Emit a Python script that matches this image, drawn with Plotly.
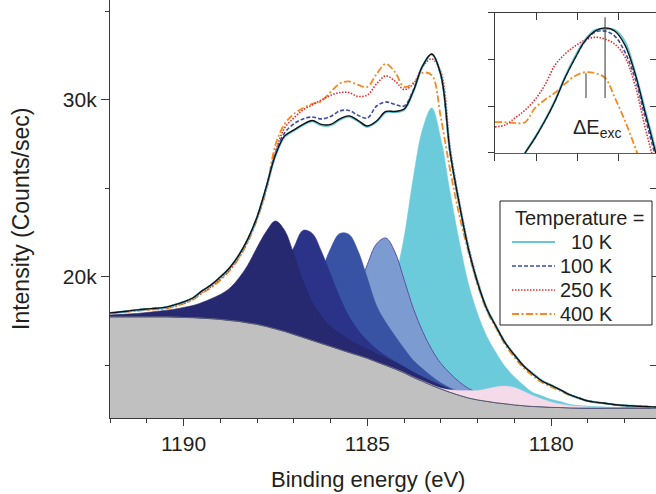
import plotly.graph_objects as go

# ---------------- main spectrum data (binding energy grid, eV) ----------------
X = [1192.00, 1191.75, 1191.50, 1191.25, 1191.00, 1190.75, 1190.50, 1190.25, 1190.00, 1189.75,
     1189.50, 1189.25, 1189.00, 1188.75, 1188.50, 1188.25, 1188.00, 1187.75, 1187.50, 1187.25,
     1187.00, 1186.75, 1186.50, 1186.25, 1186.00, 1185.75, 1185.50, 1185.25, 1185.00, 1184.75,
     1184.50, 1184.25, 1184.00, 1183.75, 1183.50, 1183.25, 1183.00, 1182.75, 1182.50, 1182.25,
     1182.00, 1181.75, 1181.50, 1181.25, 1181.00, 1180.75, 1180.50, 1180.25, 1180.00, 1179.75,
     1179.50, 1179.25, 1179.00, 1178.75, 1178.50, 1178.25, 1178.00, 1177.75, 1177.50, 1177.25,
     1177.00]

# background (counts/sec)
BG = [17740, 17740, 17740, 17740, 17740, 17740, 17740, 17730, 17710, 17700,
      17670, 17640, 17600, 17540, 17490, 17400, 17320, 17200, 17060, 16920,
      16750, 16580, 16410, 16240, 16070, 15900, 15730, 15570, 15400, 15200,
      15000, 14800, 14580, 14320, 14100, 13870, 13670, 13480, 13310, 13160,
      13050, 12970, 12890, 12830, 12770, 12720, 12680, 12660, 12630, 12620,
      12600, 12590, 12590, 12590, 12580, 12580, 12580, 12580, 12570, 12570,
      12570]

# fitted components (height above background)
P1 = [110, 140, 170, 200, 250, 310, 370, 450, 570, 680,
      880, 1130, 1410, 1810, 2430, 3280, 4350, 5370, 6100, 5710,
      4520, 3160, 2150, 1530, 1130, 900, 730, 590, 510, 450,
      400, 340, 310, 280, 250, 230, 200, 170, 140, 110,
      85, 70, 55, 45, 40, 35, 30, 25, 25, 20,
      20, 20, 10, 10, 10, 10, 5, 5, 5, 5, 5]
P2 = [85, 90, 100, 110, 120, 140, 170, 200, 230, 250,
      310, 370, 450, 570, 740, 960, 1360, 1870, 2770, 3840,
      4920, 6050, 6050, 5200, 4070, 2940, 2030, 1410, 990, 710,
      540, 420, 350, 290, 240, 200, 170, 140, 110, 95,
      80, 70, 55, 45, 40, 35, 30, 25, 25, 20,
      20, 20, 10, 10, 10, 10, 5, 5, 5, 5, 5]
P3 = [85, 85, 90, 95, 100, 110, 115, 120, 125, 130,
      135, 140, 145, 160, 190, 230, 280, 370, 510, 740,
      1130, 1870, 2830, 4070, 5540, 6550, 6670, 5880, 4520, 3160,
      2430, 1870, 1360, 960, 710, 510, 340, 250, 200, 150,
      110, 85, 70, 55, 45, 35, 30, 25, 25, 20,
      20, 20, 10, 10, 10, 10, 5, 5, 5, 5, 5]
P4 = [85, 85, 85, 90, 90, 95, 95, 100, 105, 115,
      120, 125, 130, 135, 140, 145, 155, 165, 200, 245,
      310, 400, 540, 740, 1070, 1580, 2430, 3730, 5310, 6670,
      7200, 6610, 5260, 3900, 2830, 2030, 1440, 1070, 760, 540,
      400, 280, 210, 160, 120, 90, 70, 55, 45, 40,
      35, 30, 25, 25, 15, 15, 10, 10, 10, 5, 5]
P5 = [85, 90, 95, 100, 105, 115, 120, 125, 130, 135,
      140, 145, 155, 160, 165, 170, 175, 180, 185, 200,
      210, 220, 240, 260, 310, 400, 510, 680, 960, 1870,
      3110, 5030, 7680, 11300, 14240, 15680, 14130, 11300, 8700, 6440,
      4860, 3670, 2830, 2090, 1580, 1160, 790, 620, 450, 340,
      200, 140, 115, 85, 70, 55, 45, 35, 30, 25, 15]
P6 = [0, 0, 0, 0, 0, 0, 0, 0, 0, 0,
      0, 0, 0, 0, 0, 0, 0, 0, 0, 0,
      0, 0, 0, 0, 0, 0, 0, 0, 0, 0,
      10, 15, 25, 30, 35, 45, 55, 140, 280, 420,
      540, 710, 900, 1010, 990, 820, 620, 450, 310, 200,
      140, 100, 80, 60, 50, 40, 35, 30, 25, 15, 15]

# measured spectra / fit envelope
ENVELOPE = [17970, 18020, 18080, 18140, 18190, 18230, 18280, 18420, 18590, 18810,
            19210, 19550, 20000, 20510, 21220, 22150, 23390, 25090, 26890, 27970,
            28310, 28620, 28840, 28620, 28620, 28930, 29100, 28840, 28530, 28810,
            29350, 29350, 29490, 30510, 31920, 32600, 31410, 27060, 24130, 21580,
            19660, 18190, 17200, 16270, 15590, 14970, 14520, 14120, 13870, 13620,
            13350, 13160, 12990, 12910, 12850, 12780, 12740, 12710, 12680, 12660,
            12640]
K10 = [17960, 18010, 18070, 18130, 18180, 18220, 18270, 18410, 18580, 18800,
       19200, 19540, 19990, 20500, 21200, 22120, 23350, 25040, 26850, 27930,
       28270, 28580, 28800, 28570, 28570, 28890, 29060, 28800, 28490, 28770,
       29310, 29320, 29460, 30480, 31900, 32580, 31420, 27080, 24150, 21600,
       19680, 18200, 17210, 16280, 15600, 14980, 14530, 14130, 13880, 13620,
       13350, 13160, 12990, 12910, 12850, 12780, 12740, 12710, 12680, 12650,
       12640]
K100 = [17970, 18020, 18080, 18140, 18190, 18230, 18280, 18420, 18590, 18810,
        19210, 19550, 20000, 20510, 21220, 22150, 23390, 25090, 27010, 28140,
        28650, 28930, 29040, 28930, 29070, 29380, 29410, 29130, 28980, 29660,
        29890, 29750, 29660, 30570, 31900, 32580, 31350, 26950, 24050, 21520,
        19620, 18170, 17190, 16260, 15580, 14960, 14510, 14120, 13870, 13620,
        13350, 13160, 12990, 12910, 12850, 12780, 12740, 12710, 12680, 12660,
        12640]
K250 = [17950, 18000, 18050, 18100, 18150, 18190, 18230, 18350, 18520, 18740,
        19120, 19450, 19880, 20400, 21100, 22030, 23300, 24920, 27060, 28420,
        28980, 29440, 29720, 30000, 30260, 30420, 30420, 30200, 30280, 30910,
        31360, 31070, 30590, 30910, 31870, 32320, 31580, 27350, 24290, 21750,
        19770, 18250, 17240, 16300, 15610, 14990, 14540, 14140, 13880, 13630,
        13360, 13170, 13000, 12910, 12850, 12780, 12740, 12710, 12680, 12660,
        12640]
K400 = [17940, 17990, 18040, 18090, 18130, 18170, 18210, 18320, 18490, 18710,
        19080, 19400, 19830, 20350, 21050, 21980, 23250, 24920, 27460, 28650,
        29210, 29550, 29780, 29940, 30450, 30930, 31050, 30850, 30740, 31470,
        32040, 31580, 30740, 30960, 31530, 31410, 28980, 26050, 23500, 21410,
        19550, 18080, 17120, 16160, 15450, 14860, 14410, 14040, 13790, 13560,
        13310, 13140, 12980, 12900, 12840, 12770, 12730, 12700, 12670, 12650,
        12630]

X_TICKS = [1190, 1185, 1180]
Y_TICKS = [20000, 30000]
Y_TICK_TEXT = ["20k", "30k"]

# ---------------- inset data ----------------
INSET_X = [1184.000, 1183.939, 1183.878, 1183.817, 1183.757, 1183.696, 1183.635, 1183.574, 1183.513,
           1183.452, 1183.391, 1183.330, 1183.270, 1183.209, 1183.148, 1183.087, 1183.026, 1182.965]
IN_ENV = [-1.0, -0.68, -0.36, 0.0, 0.32, 0.69, 1.11, 1.61, 2.03, 2.40, 2.61, 2.68, 2.61, 2.31, 1.71, 0.88, 0.06, -0.8]
IN_10K = [-1.0, -0.68, -0.36, 0.0, 0.33, 0.70, 1.12, 1.62, 2.06, 2.42, 2.63, 2.66, 2.63, 2.38, 1.73, 0.92, 0.11, -0.75]
IN_100K = [-1.0, -0.68, -0.36, 0.0, 0.32, 0.69, 1.11, 1.61, 2.03, 2.39, 2.59, 2.61, 2.50, 2.16, 1.61, 0.77, -0.04, -0.85]
IN_250K = [0.56, 0.60, 0.75, 0.92, 1.14, 1.46, 1.88, 2.12, 2.29, 2.42, 2.48, 2.44, 2.33, 2.06, 1.46, 0.56, -0.26, -1.0]
IN_400K = [0.66, 0.66, 0.64, 0.66, 0.96, 1.14, 1.29, 1.48, 1.65, 1.73, 1.71, 1.61, 1.18, 0.69, 0.13, -0.47, -1.0, -1.5]
INSET_X_TICKS = [1184.0, 1183.75, 1183.5, 1183.25]
INSET_Y_TICKS = [0, 1, 2, 3]
MARK_X = [1183.330, 1183.446]
MARK_TOP = [2.91, 1.71]
MARK_BOT = [1.18, 1.18]

LEGEND_TITLE = "Temperature ="
LEGEND_LABELS = ["10 K", "100 K", "250 K", "400 K"]

FONT = "Liberation Sans, Arial, sans-serif"
TXT = "#231f20"
AX = "#3a3a3a"

# plot area in pixels (for placing legend/titles in paper coordinates)
PL, PW, PH = 110, 546, 418


def px_x(p):
    return (p - PL) / PW


def px_y(p):
    return (PH - p) / PH


fig = go.Figure()

# background
fig.add_trace(go.Scatter(x=X, y=BG, mode="lines", fill="tozeroy", fillcolor="#c0c0c0",
                         line=dict(color="#6e6e6e", width=1, shape="spline"), showlegend=False,
                         hoverinfo="skip"))

components = [
    (P5, "#6bcbdb", "#6bcbdb", 0.5),
    (P4, "#7b9bd1", "#5d519f", 1.0),
    (P3, "#3853a4", "#34509f", 0.6),
    (P2, "#2b3389", "#283085", 0.6),
    (P1, "#26296f", "#23266a", 0.6),
    (P6, "#f5dbe9", "#f5dbe9", 0.3),
]
for comp, fc, lc, lw in components:
    fig.add_trace(go.Scatter(x=X, y=BG, mode="lines", line=dict(width=0, shape="spline"),
                             showlegend=False, hoverinfo="skip"))
    fig.add_trace(go.Scatter(x=X, y=[b + c for b, c in zip(BG, comp)], mode="lines",
                             fill="tonexty", fillcolor=fc,
                             line=dict(color=lc, width=lw, shape="spline"),
                             showlegend=False, hoverinfo="skip"))

fig.add_trace(go.Scatter(x=X, y=BG, mode="lines", line=dict(color="#585c6e", width=1, shape="spline"),
                         showlegend=False, hoverinfo="skip"))

STYLE = {
    "10 K": dict(color="#66c7d8", width=2.2, dash="solid"),
    "100 K": dict(color="#3d4ea1", width=1.6, dash="4px,2px"),
    "250 K": dict(color="#ee2a2f", width=1.6, dash="1.5px,1.5px"),
    "400 K": dict(color="#f6891f", width=1.8, dash="7px,2.5px,2px,2.5px"),
}
series = [("400 K", K400, IN_400K), ("250 K", K250, IN_250K), ("100 K", K100, IN_100K), ("10 K", K10, IN_10K)]
for name, ys, yin in series:
    fig.add_trace(go.Scatter(x=X, y=ys, mode="lines", name=name, showlegend=False,
                             line=dict(shape="spline", **STYLE[name])))
fig.add_trace(go.Scatter(x=X, y=ENVELOPE, mode="lines", name="fit", showlegend=False,
                         line=dict(color="#111111", width=1.4, shape="spline")))

# inset
for name, ys, yin in series:
    fig.add_trace(go.Scatter(x=INSET_X, y=yin, mode="lines", name=name, showlegend=False,
                             xaxis="x2", yaxis="y2", line=dict(shape="spline", **STYLE[name])))
fig.add_trace(go.Scatter(x=INSET_X, y=IN_ENV, mode="lines", showlegend=False, xaxis="x2", yaxis="y2",
                         line=dict(color="#111111", width=1.3, shape="spline")))
for mx, mt, mb in zip(MARK_X, MARK_TOP, MARK_BOT):
    fig.add_trace(go.Scatter(x=[mx, mx], y=[mb, mt], mode="lines", showlegend=False,
                             xaxis="x2", yaxis="y2", line=dict(color="#444444", width=1.1)))

# helper empty traces for mirrored-tick axes
fig.add_trace(go.Scatter(x=[], y=[], xaxis="x3", yaxis="y3", showlegend=False))
fig.add_trace(go.Scatter(x=[], y=[], xaxis="x", yaxis="y4", showlegend=False))

annotations = [
    dict(x=1183.379, y=0.53, xref="x2", yref="y2", text="\u0394E<sub>exc</sub>",
         showarrow=False, font=dict(size=20, color=TXT, family=FONT)),
    dict(x=px_x(368), y=px_y(493), xref="paper", yref="paper", text="Binding energy (eV)",
         showarrow=False, xanchor="center", yanchor="bottom", borderpad=0,
         font=dict(size=22, color=TXT, family=FONT)),
    dict(x=px_x(21), y=px_y(219), xref="paper", yref="paper", text="Intensity (Counts/sec)",
         textangle=-90, showarrow=False, xanchor="center", yanchor="middle",
         font=dict(size=23, color=TXT, family=FONT)),
    dict(x=px_x(513), y=px_y(218), xref="paper", yref="paper", text=LEGEND_TITLE,
         showarrow=False, xanchor="left", yanchor="middle", font=dict(size=20, color=TXT, family=FONT)),
]
shapes = [dict(type="rect", xref="paper", yref="paper", x0=px_x(500), x1=px_x(652), y0=px_y(325), y1=px_y(201),
               fillcolor="white", line=dict(color=TXT, width=1), layer="above")]
row_y = [242, 266, 290, 314]
for lab, ry in zip(LEGEND_LABELS, row_y):
    st = STYLE[lab]
    shapes.append(dict(type="line", xref="paper", yref="paper", x0=px_x(512), x1=px_x(555),
                       y0=px_y(ry), y1=px_y(ry), layer="above",
                       line=dict(color=st["color"], width=st["width"] if lab != "10 K" else 2, dash=st["dash"])))
    annotations.append(dict(x=px_x(615), y=px_y(ry), xref="paper", yref="paper", text=lab, showarrow=False,
                            xanchor="right", yanchor="middle", font=dict(size=20, color=TXT, family=FONT)))

fig.update_layout(
    width=656, height=494,
    margin=dict(l=110, r=0, t=0, b=76),
    paper_bgcolor="white", plot_bgcolor="white",
    font=dict(family=FONT, size=21, color=TXT),
    showlegend=False,
    annotations=annotations,
    shapes=shapes,
    xaxis=dict(domain=[0, 1], anchor="y", range=[1192.0, 1177.15], tickvals=X_TICKS,
               ticks="outside", ticklen=7, tickwidth=1.2, tickcolor=AX,
               minor=dict(dtick=1, tick0=1180, ticks="outside", ticklen=4, tickwidth=1.2, tickcolor=AX),
               showline=True, linecolor=AX, linewidth=1.3, showgrid=False, zeroline=False,
               tickfont=dict(size=21)),
    yaxis=dict(domain=[0, 1], anchor="x", range=[12030, 35650], tickvals=Y_TICKS, ticktext=Y_TICK_TEXT,
               ticks="outside", ticklen=8, tickwidth=1.2, tickcolor=AX,
               minor=dict(dtick=5000, tick0=0, ticks="outside", ticklen=4, tickwidth=1.2, tickcolor=AX),
               showline=True, linecolor=AX, linewidth=1.3, showgrid=False, zeroline=False,
               tickfont=dict(size=21)),
    yaxis4=dict(overlaying="y", side="right", anchor="x", range=[12030, 35650],
                tickvals=[15000, 20000, 25000], ticks="inside", ticklen=6, tickwidth=1.2, tickcolor=AX,
                showticklabels=False, showline=False, showgrid=False, zeroline=False),
    xaxis2=dict(domain=[0.7051, 1.0], anchor="y2", range=[1184.0, 1183.02], tickvals=INSET_X_TICKS,
                ticks="outside", ticklen=7, tickwidth=1.2, tickcolor=AX, showticklabels=False,
                showline=True, linecolor="#555a70", linewidth=1.3, showgrid=False, zeroline=False),
    yaxis2=dict(domain=[0.634, 0.969], anchor="x2", range=[0, 3], tickvals=INSET_Y_TICKS,
                ticks="outside", ticklen=6, tickwidth=1.2, tickcolor=AX, showticklabels=False,
                showline=True, linecolor=AX, linewidth=1.3, showgrid=False, zeroline=False),
    xaxis3=dict(overlaying="x2", side="top", anchor="y3", range=[1184.0, 1183.02], tickvals=INSET_X_TICKS,
                ticks="inside", ticklen=7, tickwidth=1.2, tickcolor=AX, showticklabels=False,
                showline=True, linecolor=AX, linewidth=1.3, showgrid=False, zeroline=False),
    yaxis3=dict(overlaying="y2", side="right", anchor="x3", range=[0, 3], tickvals=INSET_Y_TICKS,
                ticks="inside", ticklen=6, tickwidth=1.2, tickcolor=AX, showticklabels=False,
                showline=False, showgrid=False, zeroline=False),
)

fig.write_html("out.html")
